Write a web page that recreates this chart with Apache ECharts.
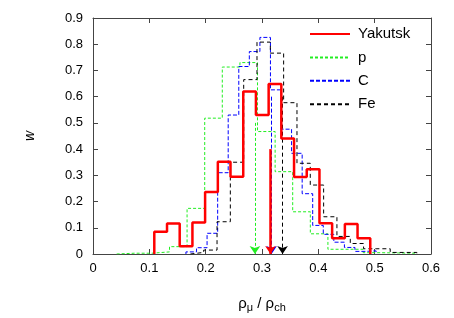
<!DOCTYPE html>
<html><head><meta charset="utf-8">
<script src="https://cdn.jsdelivr.net/npm/echarts@6/dist/echarts.min.js"></script>
<style>html,body{margin:0;padding:0;background:#fff}#c{width:454px;height:318px}</style>
</head><body><div id="c"></div>
<script>
// Bin edges (n+1) and bin heights (n) per series
const redEdges = [0.1088,0.1314,0.1539,0.1765,0.1990,0.2216,0.2441,0.2667,0.2892,0.3118,0.3343,0.3569,0.3794,0.4020,0.4245,0.4471,0.4696,0.4922];
const redW     = [0.085,0.116,0.030,0.120,0.236,0.352,0.295,0.620,0.530,0.648,0.440,0.294,0.323,0.117,0.060,0.114,0.060];

const pEdges = [0.0420,0.0733,0.1045,0.1358,0.1670,0.1983,0.2295,0.2608,0.2920,0.3233,0.3545,0.3858,0.4170,0.4483,0.4795,0.5108,0.5420,0.5733];
const pW     = [0.003,0.003,0.008,0.028,0.174,0.518,0.713,0.730,0.467,0.314,0.161,0.077,0.018,0.018,0.005,0.004,0.003];

const cEdges = [0.1650,0.1838,0.2025,0.2213,0.2400,0.2588,0.2775,0.2963,0.3150,0.3338,0.3525,0.3713,0.3900,0.4088,0.4275,0.4463,0.4650,0.4838,0.5025];
const cW     = [0.008,0.024,0.079,0.310,0.530,0.715,0.772,0.826,0.626,0.476,0.384,0.230,0.109,0.075,0.045,0.025,0.010,0.012];

const feEdges = [0.1729,0.1965,0.2202,0.2438,0.2675,0.2911,0.3148,0.3384,0.3621,0.3857,0.4094,0.4330,0.4567,0.4803,0.5040,0.5276,0.5513,0.5749];
const feW     = [0.006,0.015,0.123,0.350,0.665,0.808,0.766,0.577,0.346,0.263,0.142,0.067,0.040,0.020,0.020,0.006,0.006];

// Mean-value arrows: [x, top]
const redArrow = [0.315, 0.40];
const pArrow   = [0.2875, 0.50];
const cArrow   = [0.317, 0.60];
const feArrow  = [0.3365, 0.60];

const seriesNames = ['Yakutsk','p','C','Fe'];
const xTicks = ['0','0.1','0.2','0.3','0.4','0.5','0.6'];
const yTicks = ['0','0.1','0.2','0.3','0.4','0.5','0.6','0.7','0.8','0.9'];

function outline(edges, vals){
  const pts = [[edges[0], 0]];
  for (let i = 0; i < vals.length; i++){
    pts.push([edges[i], vals[i]]);
    pts.push([edges[i+1], vals[i]]);
  }
  pts.push([edges[edges.length-1], 0]);
  return pts;
}
function arrow(a, color, width, type){
  return {
    silent: true, symbol: ['none','arrow'], symbolSize: 8, animation: false,
    label: {show: false},
    lineStyle: {color: color, width: width, type: type},
    emphasis: {disabled: true},
    data: [[{coord: [a[0], a[1]]}, {coord: [a[0], 0]}]]
  };
}

const FONT = 'Liberation Sans, Arial, Helvetica, sans-serif';
const axisCol = '#444';
const chart = echarts.init(document.getElementById('c'), null, {renderer: 'canvas'});
chart.setOption({
  animation: false,
  backgroundColor: '#fff',
  grid: {left: 93, right: 23, top: 18, bottom: 64, containLabel: false},
  legend: {
    data: seriesNames, orient: 'vertical', left: 309, top: 26.5, padding: 0,
    itemWidth: 40, itemHeight: 14, itemGap: 8.4,
    itemStyle: {opacity: 0, borderWidth: 0},
    textStyle: {fontFamily: FONT, fontSize: 15, color: '#000', padding: [0,0,0,3]},
    selectedMode: false
  },
  xAxis: [{
    type: 'value', min: 0, max: 0.6, interval: 0.1,
    name: '{a|ρ}{s|μ}{a| / ρ}{s|ch}', nameLocation: 'middle', nameGap: 40,
    nameTextStyle: {rich: {
      a: {fontFamily: FONT, fontSize: 15, color: '#000'},
      s: {fontFamily: FONT, fontSize: 11, color: '#000', verticalAlign: 'bottom', padding: [8,0,0,0]}
    }},
    axisLine: {onZero: false, lineStyle: {color: axisCol, width: 1}},
    axisTick: {inside: true, length: 5, lineStyle: {color: axisCol}},
    axisLabel: {fontFamily: FONT, fontSize: 13, color: '#000', margin: 8,
      formatter: v => xTicks[Math.round(v * 10)]},
    splitLine: {show: false}
  },{
    type: 'value', min: 0, max: 0.6, interval: 0.1, position: 'top',
    axisLine: {onZero: false, lineStyle: {color: axisCol, width: 1}},
    axisTick: {inside: true, length: 5, lineStyle: {color: axisCol}},
    axisLabel: {show: false}, splitLine: {show: false}
  }],
  yAxis: [{
    type: 'value', min: 0, max: 0.9, interval: 0.1,
    name: 'w', nameLocation: 'middle', nameGap: 56, nameRotate: 90,
    nameTextStyle: {fontFamily: FONT, fontSize: 14, fontStyle: 'italic', color: '#000'},
    axisLine: {show: true, onZero: false, lineStyle: {color: axisCol, width: 1}},
    axisTick: {show: true, inside: true, length: 5, lineStyle: {color: axisCol}},
    axisLabel: {fontFamily: FONT, fontSize: 13, color: '#000', margin: 10,
      formatter: v => yTicks[Math.round(v * 10)]},
    splitLine: {show: false}
  },{
    type: 'value', min: 0, max: 0.9, interval: 0.1, position: 'right',
    axisLine: {show: true, onZero: false, lineStyle: {color: axisCol, width: 1}},
    axisTick: {show: true, inside: true, length: 5, lineStyle: {color: axisCol}},
    axisLabel: {show: false}, splitLine: {show: false}
  }],
  series: [
    {name: 'p', type: 'line', data: outline(pEdges, pW), showSymbol: false, symbol: 'none',
     lineStyle: {color: '#22ee22', width: 1, type: [3,2]}, itemStyle: {color: '#22ee22'},
     markLine: arrow(pArrow, '#22ee22', 1, [3,2]), z: 2},
    {name: 'C', type: 'line', data: outline(cEdges, cW), showSymbol: false, symbol: 'none',
     lineStyle: {color: '#0000ff', width: 1, type: [4,2]}, itemStyle: {color: '#0000ff'},
     markLine: arrow(cArrow, '#0000ff', 1, [4,2]), z: 3},
    {name: 'Fe', type: 'line', data: outline(feEdges, feW), showSymbol: false, symbol: 'none',
     lineStyle: {color: '#000', width: 1, type: [4,3]}, itemStyle: {color: '#000'},
     markLine: arrow(feArrow, '#000', 1, [4,3]), z: 4},
    {name: 'Yakutsk', type: 'line', data: outline(redEdges, redW), showSymbol: false, symbol: 'none',
     lineStyle: {color: '#ff0000', width: 2.5}, itemStyle: {color: '#ff0000'},
     markLine: arrow(redArrow, '#ff0000', 2.5, 'solid'), z: 5}
  ]
});
</script>
</body></html>
